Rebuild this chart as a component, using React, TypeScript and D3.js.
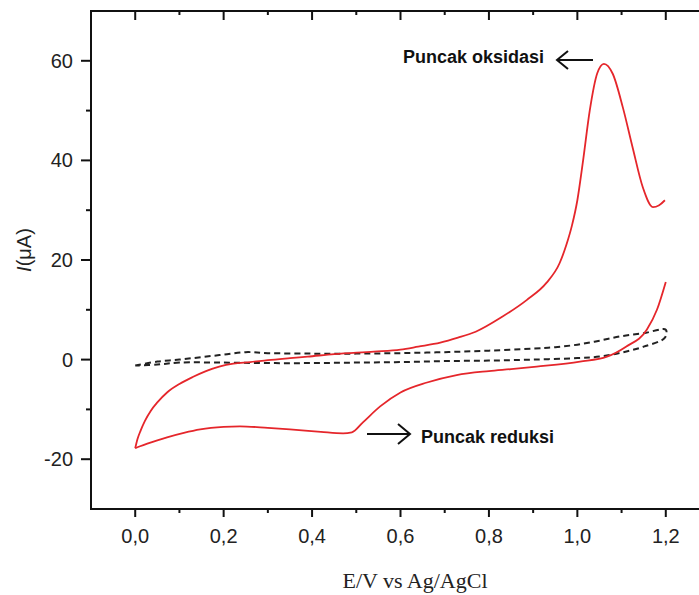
import React, { useEffect, useRef } from 'react';
import * as d3 from 'd3';

// E (V) vs I (uA)
const redAnodic: [number, number][] = [
  [0.0, -17.8], [0.005, -16.0], [0.012, -14.3], [0.022, -12.3], [0.035, -10.3], [0.05, -8.6],
  [0.072, -6.6], [0.1, -4.9], [0.13, -3.5], [0.16, -2.3], [0.19, -1.4], [0.222, -0.8],
  [0.26, -0.5], [0.3, -0.1], [0.35, 0.3], [0.39, 0.6], [0.45, 1.1], [0.54, 1.6], [0.6, 2.0],
  [0.64, 2.6], [0.69, 3.4], [0.73, 4.4], [0.77, 5.6], [0.83, 8.6], [0.886, 12.0],
  [0.93, 15.4], [0.96, 19.4], [0.975, 23.0], [0.988, 27.0], [1.0, 32.0], [1.013, 40.0],
  [1.028, 50.0], [1.045, 57.5], [1.06, 59.4], [1.08, 57.4], [1.103, 50.6], [1.125, 42.6],
  [1.148, 34.6], [1.171, 30.6], [1.185, 31.0], [1.198, 32.0],
];

const redCathodic: [number, number][] = [
  [0.0, -17.8], [0.011, -17.4], [0.05, -16.2], [0.072, -15.6], [0.11, -14.7], [0.147, -14.0],
  [0.2, -13.5], [0.237, -13.4], [0.3, -13.7], [0.35, -14.0], [0.42, -14.5], [0.47, -14.8],
  [0.49, -14.6], [0.515, -12.6], [0.554, -9.4], [0.6, -6.6], [0.66, -4.6], [0.727, -3.1],
  [0.8, -2.3], [0.85, -1.9], [0.908, -1.4], [1.006, -0.4], [1.067, 0.6], [1.11, 2.6],
  [1.157, 6.0], [1.18, 10.0], [1.2, 15.6],
];

// blank (dashed) loop: forward then back
const blankLoop: [number, number][] = [
  [0.0, -1.2], [0.05, -0.4], [0.1, 0.0], [0.15, 0.5], [0.2, 1.0], [0.25, 1.5], [0.3, 1.3],
  [0.4, 1.2], [0.5, 1.2], [0.6, 1.3], [0.7, 1.5], [0.8, 1.8], [0.9, 2.2], [0.95, 2.5],
  [1.0, 3.0], [1.05, 3.8], [1.1, 4.7], [1.15, 5.3], [1.2, 6.0],
  [1.198, 4.4], [1.15, 2.6], [1.1, 1.4], [1.05, 0.6], [1.0, 0.3], [0.9, 0.0], [0.8, -0.2],
  [0.7, -0.3], [0.6, -0.5], [0.5, -0.6], [0.4, -0.7], [0.3, -0.7], [0.2, -0.6], [0.1, -0.6],
  [0.05, -1.0], [0.0, -1.2],
];

const xMajor = [0, 0.2, 0.4, 0.6, 0.8, 1.0, 1.2];
const xMinor = [0.1, 0.3, 0.5, 0.7, 0.9, 1.1];
const yMajor = [-20, 0, 20, 40, 60];
const yMinor = [-10, 10, 30, 50];

const W = 699;
const H = 595;

function App() {
  const svgRef = useRef<SVGSVGElement | null>(null);

  useEffect(() => {
    const svg = d3.select(svgRef.current);
    svg.selectAll('*').remove();

    const x = d3.scaleLinear().domain([-0.1, 1.3]).range([91, 710]);
    const y = d3.scaleLinear().domain([-30, 70]).range([509, 11]);
    const [x0, x1] = x.range();
    const [yb, yt] = y.range();
    const font = '"Liberation Sans", Arial, sans-serif';
    const fmt = (v: number) => d3.format('.1f')(v).replace('.', ',');

    const line = d3.line<[number, number]>().x(d => x(d[0])).y(d => y(d[1]));

    // dashed blank
    svg.append('path')
      .attr('d', line.curve(d3.curveCatmullRom)(blankLoop))
      .attr('fill', 'none')
      .attr('stroke', '#222')
      .attr('stroke-width', 2)
      .attr('stroke-dasharray', '6,4');

    // red CV
    [redAnodic, redCathodic].forEach(branch => {
      svg.append('path')
        .attr('d', line.curve(d3.curveMonotoneX)(branch))
        .attr('fill', 'none')
        .attr('stroke', '#e5262b')
        .attr('stroke-width', 1.8);
    });

    // frame
    const axes = svg.append('g').attr('stroke', '#111').attr('stroke-width', 2);
    axes.append('line').attr('x1', x0).attr('x2', x1).attr('y1', yb).attr('y2', yb);
    axes.append('line').attr('x1', x0).attr('x2', x1).attr('y1', yt).attr('y2', yt);
    axes.append('line').attr('x1', x0).attr('x2', x0).attr('y1', yb + 1).attr('y2', yt - 1);

    xMajor.forEach(v => {
      axes.append('line').attr('x1', x(v)).attr('x2', x(v)).attr('y1', yb).attr('y2', yb + 8);
      axes.append('line').attr('x1', x(v)).attr('x2', x(v)).attr('y1', yt).attr('y2', yt + 9);
    });
    xMinor.forEach(v => {
      axes.append('line').attr('x1', x(v)).attr('x2', x(v)).attr('y1', yb).attr('y2', yb + 4);
      axes.append('line').attr('x1', x(v)).attr('x2', x(v)).attr('y1', yt).attr('y2', yt + 4);
    });
    yMajor.forEach(v => {
      axes.append('line').attr('x1', x0 - 10).attr('x2', x0).attr('y1', y(v)).attr('y2', y(v));
    });
    yMinor.forEach(v => {
      axes.append('line').attr('x1', x0 - 5).attr('x2', x0).attr('y1', y(v)).attr('y2', y(v));
    });

    svg.append('g').selectAll('text').data(xMajor).enter().append('text')
      .attr('x', d => x(d)).attr('y', 543)
      .attr('text-anchor', 'middle')
      .attr('font-family', font).attr('font-size', 20).attr('fill', '#222')
      .text(d => fmt(d));

    svg.append('g').selectAll('text').data(yMajor).enter().append('text')
      .attr('x', 73).attr('y', d => y(d) + 7)
      .attr('text-anchor', 'end')
      .attr('font-family', font).attr('font-size', 20).attr('fill', '#222')
      .text(d => String(d));

    // axis titles
    svg.append('text')
      .attr('x', 415).attr('y', 588)
      .attr('text-anchor', 'middle')
      .attr('font-family', '"Liberation Serif", "Times New Roman", serif')
      .attr('font-size', 22).attr('fill', '#222')
      .text('E/V vs Ag/AgCl');

    const yt2 = svg.append('text')
      .attr('transform', 'translate(31,250) rotate(-90)')
      .attr('text-anchor', 'middle')
      .attr('font-family', font).attr('font-size', 20).attr('fill', '#222');
    yt2.append('tspan').attr('font-style', 'italic').text('I');
    yt2.append('tspan').text('(μA)');

    // annotations
    const ann = svg.append('g').attr('font-family', font).attr('font-weight', 'bold')
      .attr('font-size', 18).attr('fill', '#111');
    ann.append('text').attr('x', 403).attr('y', 63).text('Puncak oksidasi');
    ann.append('text').attr('x', 421).attr('y', 443).text('Puncak reduksi');

    const arrows = svg.append('g').attr('stroke', '#111').attr('stroke-width', 2)
      .attr('fill', 'none');
    arrows.append('path').attr('d', 'M593,60 L557,60 M568,51 L557,60 L568,69');
    arrows.append('path').attr('d', 'M367,434 L410,434 M398,424 L410,434 L398,444');
  }, []);

  return (
    <svg
      ref={svgRef}
      width={W}
      height={H}
      style={{ position: 'absolute', left: 0, top: 0, background: '#fff', display: 'block' }}
    />
  );
}

export default App;
